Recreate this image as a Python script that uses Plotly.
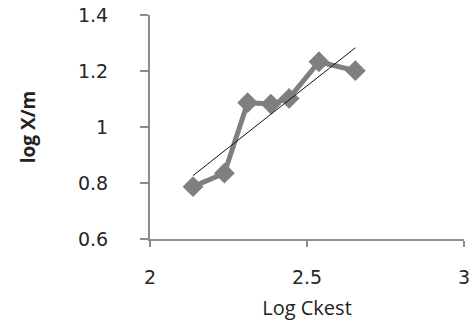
import numpy as np
import plotly.graph_objects as go

log_ckest = [2.137, 2.237, 2.311, 2.385, 2.443, 2.538, 2.654]
log_xm = [0.787, 0.835, 1.087, 1.082, 1.102, 1.233, 1.201]

x_ticks = [2, 2.5, 3]
x_tick_text = ["2", "2.5", "3"]
y_ticks = [0.6, 0.8, 1.0, 1.2, 1.4]
y_tick_text = ["0.6", "0.8", "1", "1.2", "1.4"]

slope, intercept = np.polyfit(log_ckest, log_xm, 1)
tx = [min(log_ckest), max(log_ckest)]
ty = [slope * v + intercept for v in tx]

fig = go.Figure()
fig.add_trace(go.Scatter(
    x=log_ckest, y=log_xm, mode="lines+markers",
    line=dict(color="#7f7f7f", width=5),
    marker=dict(symbol="diamond", size=16, color="#7f7f7f"),
    showlegend=False,
))
fig.add_trace(go.Scatter(
    x=tx, y=ty, mode="lines",
    line=dict(color="#111111", width=1),
    showlegend=False,
))

tick_font = dict(family="DejaVu Sans", size=19, color="#262626")
fig.update_layout(
    width=472, height=325,
    margin=dict(l=150, r=8, t=15, b=86),
    paper_bgcolor="white", plot_bgcolor="white",
    xaxis=dict(
        range=[2, 3], tickvals=x_ticks, ticktext=x_tick_text,
        showgrid=False, zeroline=False, automargin=False,
        showline=True, linecolor="#8c8c8c", linewidth=2,
        ticks="outside", ticklen=6, tickcolor="#8c8c8c", tickwidth=2,
        tickfont=tick_font, ticklabelstandoff=14, ticklabeloverflow="allow",
        title=dict(text="Log Ckest", font=dict(family="Open Sans", size=20, color="#222222"), standoff=14),
    ),
    yaxis=dict(
        range=[0.6, 1.4], tickvals=y_ticks, ticktext=y_tick_text,
        showgrid=False, zeroline=False, automargin=False,
        showline=True, linecolor="#8c8c8c", linewidth=2,
        ticks="outside", ticklen=8, tickcolor="#8c8c8c", tickwidth=2,
        tickfont=tick_font, ticklabelstandoff=28, ticklabeloverflow="allow",
        title=dict(text="<b>log X/m</b>", font=dict(family="Open Sans", size=19, color="#222222"), standoff=37),
    ),
)
fig.write_html("out.html", config={"displayModeBar": False},
               post_script="document.body.style.margin='0';")
